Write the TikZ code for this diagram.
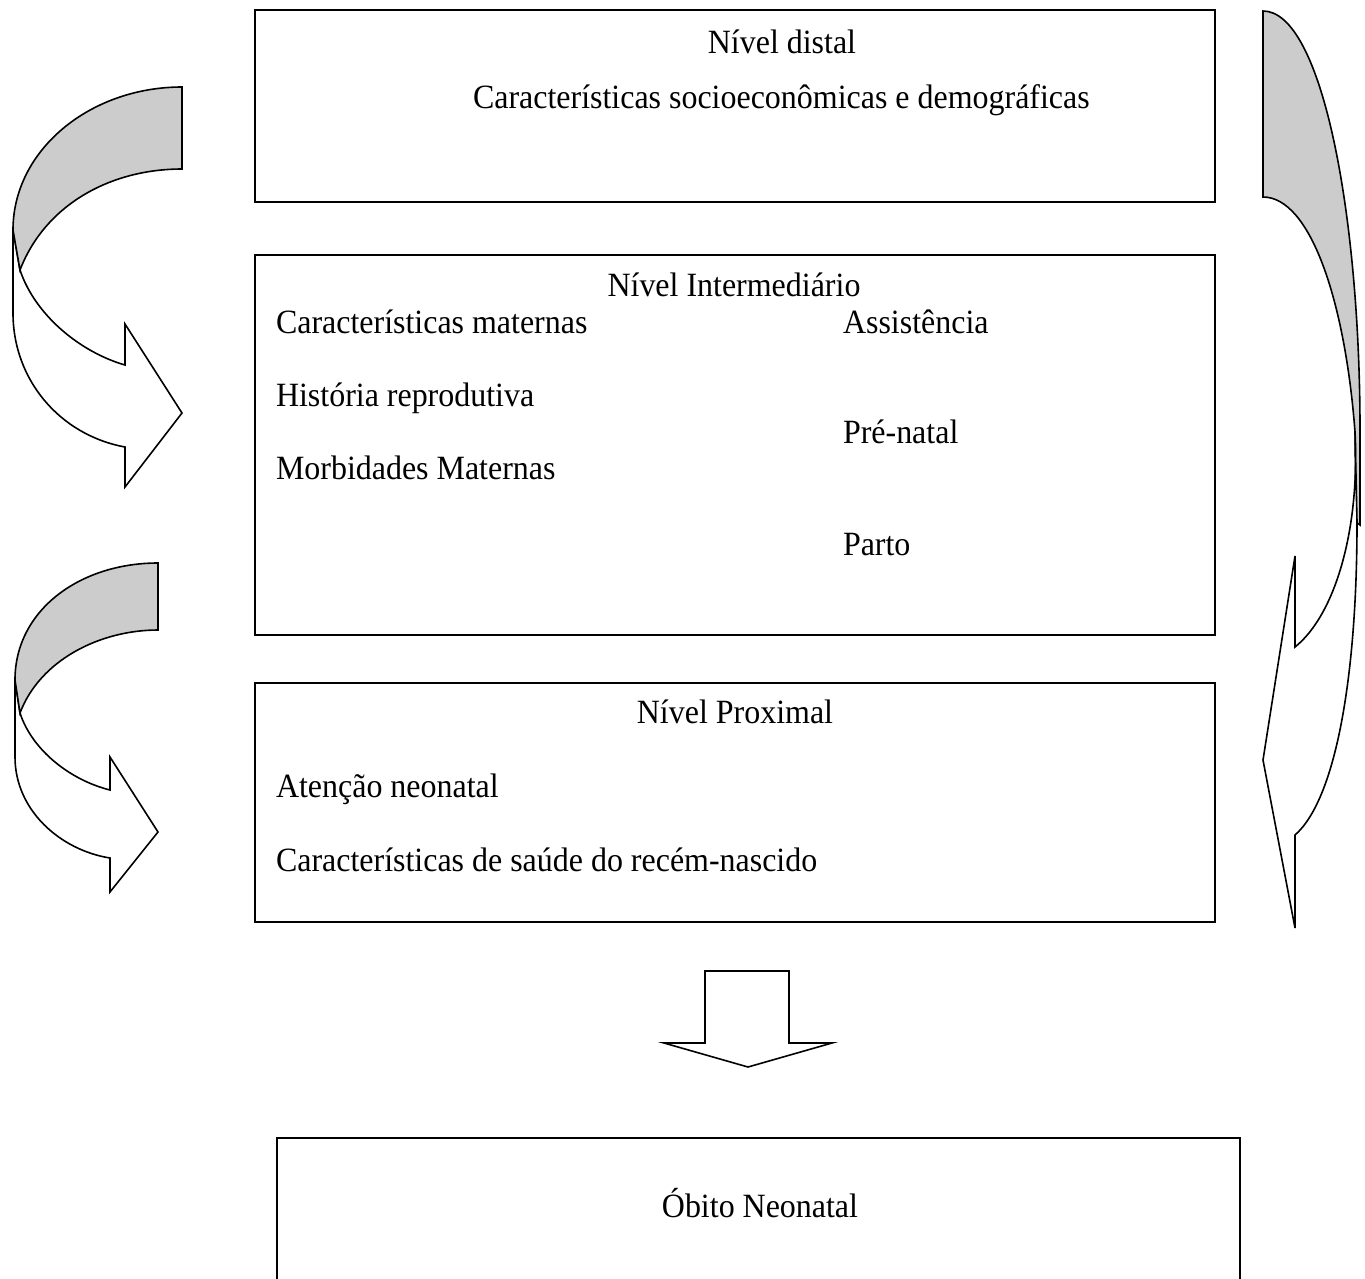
\documentclass[tikz,border=0pt]{standalone}
\usepackage{fontspec}
\setmainfont{Liberation Serif}[FakeStretch=0.94]
\definecolor{backgray}{RGB}{204,204,204}
\begin{document}
\begin{tikzpicture}[x=1pt,y=-1pt,
  box/.style={draw=black,line width=1.6pt,inner sep=0pt,outer sep=0pt},
  lbl/.style={inner sep=0pt,outer sep=0pt,anchor=base west,font=\fontsize{34}{40}\selectfont},
  clbl/.style={inner sep=0pt,outer sep=0pt,anchor=base,font=\fontsize{34}{40}\selectfont},
  ribbon/.style={draw=black,line width=1.6pt,line join=miter},
  backpart/.style={ribbon,fill=backgray},
  frontpart/.style={ribbon,fill=white}]
\useasboundingbox (0,0) rectangle (1365,1278);

% boxes
\node[box,minimum width=960pt,minimum height=192pt] (distal) at (735,106) {};
\node[box,minimum width=960pt,minimum height=380pt] (inter) at (735,445) {};
\node[box,minimum width=960pt,minimum height=239pt] (prox) at (735,802.5) {};
\node[box,minimum width=963pt,minimum height=162pt] (obito) at (758.5,1219) {};

% texts
\node[clbl] (t1) at (782,53) {Nível distal};
\node[lbl] (t2) at (473,108) {Características socioeconômicas e demográficas};
\node[clbl] (t3) at (734,296) {Nível Intermediário};
\node[lbl] (t4) at (276,333) {Características maternas};
\node[lbl] (t5) at (843,333) {Assistência};
\node[lbl] (t6) at (276,406) {História reprodutiva};
\node[lbl] (t7) at (843,443) {Pré-natal};
\node[lbl] (t8) at (276,479) {Morbidades Maternas};
\node[lbl] (t9) at (843,555) {Parto};
\node[clbl] (t10) at (735,723) {Nível Proximal};
\node[lbl] (t11) at (276,797) {Atenção neonatal};
\node[lbl] (t12) at (276,871) {Características de saúde do recém-nascido};
\node[clbl] (t13) at (760,1217) {Óbito Neonatal};

% left curved arrow 1
\draw[frontpart] (13,230) -- (13,313) .. controls (13,380) and (60,435) .. (125,447)
  -- (125,487) -- (182,413) -- (125,324) -- (125,365)
  .. controls (80,352) and (35,315) .. (20,270) -- cycle;
\draw[backpart] (182,87) .. controls (90,87) and (13,150) .. (13,230)
  -- (20,270) .. controls (45,205) and (110,169) .. (182,169) -- cycle;

% left curved arrow 2
\draw[frontpart] (15,680) -- (15,757) .. controls (15,810) and (60,850) .. (110,858)
  -- (110,892) -- (158,832) -- (110,757) -- (110,790)
  .. controls (70,780) and (32,750) .. (20,713) -- cycle;
\draw[backpart] (158,563) .. controls (80,563) and (15,610) .. (15,680)
  -- (20,713) .. controls (40,660) and (100,630) .. (158,630) -- cycle;

% right curved arrow
\draw[backpart] (1263,11) .. controls (1322,11) and (1360,215) .. (1360,430)
  -- (1360,525) -- (1356,522) -- (1355,432)
  .. controls (1345,300) and (1310,197) .. (1263,197) -- cycle;
\draw[frontpart] (1355,432) .. controls (1360,530) and (1335,615) .. (1295,647)
  -- (1295,556) -- (1263,760) -- (1295,928) -- (1295,835)
  .. controls (1335,800) and (1357,680) .. (1357,522) -- cycle;

% down block arrow
\draw[ribbon,fill=white] (705,971) -- (789,971) -- (789,1043) -- (832,1043)
  -- (748,1067) -- (664,1043) -- (705,1043) -- cycle;
\end{tikzpicture}
\end{document}
